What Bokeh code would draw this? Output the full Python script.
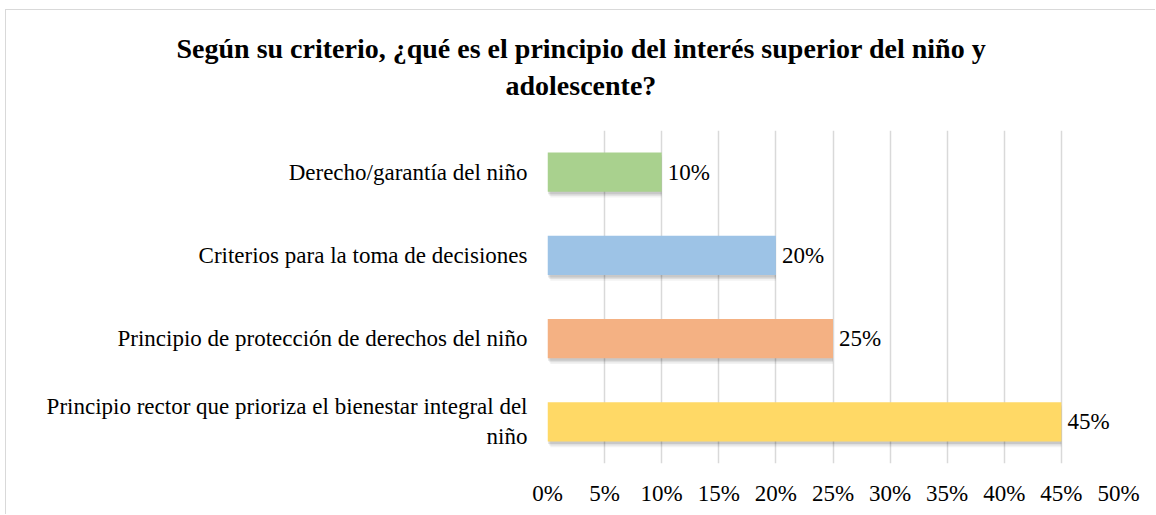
from bokeh.plotting import figure
from bokeh.models import ColumnDataSource, FactorRange, Range1d, LabelSet, Title, FixedTicker, CustomJSTickFormatter
from bokeh.transform import dodge
from bokeh.embed import file_html
from bokeh.resources import INLINE

# Data (top to bottom as in the reference)
categories = [
    "Derecho/garantía del niño",
    "Criterios para la toma de decisiones",
    "Principio de protección de derechos del niño",
    "Principio rector que prioriza el bienestar integral del\nniño",
]
values = [10, 20, 25, 45]
colors = ["#A9D18E", "#9DC3E6", "#F4B183", "#FFD966"]
x_ticks = [0, 5, 10, 15, 20, 25, 30, 35, 40, 45, 50]
title_lines = [
    "Según su criterio, ¿qué es el principio del interés superior del niño y",
    "adolescente?",
]

FONT = "Liberation Serif"

source = ColumnDataSource(dict(
    cat=categories,
    val=values,
    color=colors,
    label=[f"{v}%" for v in values],
))

p = figure(
    width=1150, height=505,
    y_range=FactorRange(factors=list(reversed(categories)), range_padding=0),
    x_range=Range1d(0, 50),
    output_backend="svg", toolbar_location=None,
    min_border_left=541, min_border_right=38,
    min_border_top=120, min_border_bottom=52,
)
p.styles = {"margin-left": "6px", "margin-top": "10px",
            "box-shadow": "-1px -1px 0 0 #d9d9d9"}
p.outline_line_color = None
p.background_fill_color = "white"
p.border_fill_color = "white"

# soft shadows under the bars
for dy, dx, a in [(-0.07, 0.25, 0.05), (-0.05, 0.15, 0.08), (-0.03, 0.05, 0.10)]:
    p.hbar(y=dodge("cat", dy, range=p.y_range), left=dx, right="val", height=0.47,
           fill_color="#000000", fill_alpha=a, line_color=None, source=source)
p.hbar(y="cat", left=0, right="val", height=0.47, fill_color="color",
       line_color=None, source=source)

labels = LabelSet(x="val", y="cat", text="label", source=source, x_offset=6,
                  text_baseline="middle", text_align="left",
                  text_font=FONT, text_font_size="23px", text_color="#000000")
p.add_layout(labels)

# axes
p.xaxis.ticker = FixedTicker(ticks=x_ticks)
p.xaxis.formatter = CustomJSTickFormatter(code="return tick + '%';")
p.xaxis.axis_line_color = None
p.xaxis.major_tick_line_color = None
p.xaxis.minor_tick_line_color = None
p.xaxis.major_label_text_font = FONT
p.xaxis.major_label_text_font_size = "23px"
p.xaxis.major_label_text_color = "#000000"
p.xaxis.major_label_standoff = 11

p.yaxis.axis_line_color = None
p.yaxis.major_tick_line_color = None
p.yaxis.minor_tick_line_color = None
p.yaxis.major_label_text_font = FONT
p.yaxis.major_label_text_font_size = "23px"
p.yaxis.major_label_text_color = "#000000"
p.yaxis.major_label_standoff = 14

p.xgrid.ticker = FixedTicker(ticks=x_ticks)
p.xgrid.grid_line_color = "#d9d9d9"
p.xgrid.grid_line_width = 1.5
p.ygrid.grid_line_color = None

# title: spacer + two stacked titles above the frame (closest first)
p.add_layout(Title(text=" ", text_font_size="1px", standoff=25), "above")
p.add_layout(Title(text=title_lines[1], align="left", offset=-42, standoff=4,
                   text_font=FONT, text_font_size="28px", text_font_style="bold",
                   text_color="#000000"), "above")
p.add_layout(Title(text=title_lines[0], align="left", offset=-371, standoff=4,
                   text_font=FONT, text_font_size="28px", text_font_style="bold",
                   text_color="#000000"), "above")

open("out.html", "w").write(file_html(p, INLINE))
